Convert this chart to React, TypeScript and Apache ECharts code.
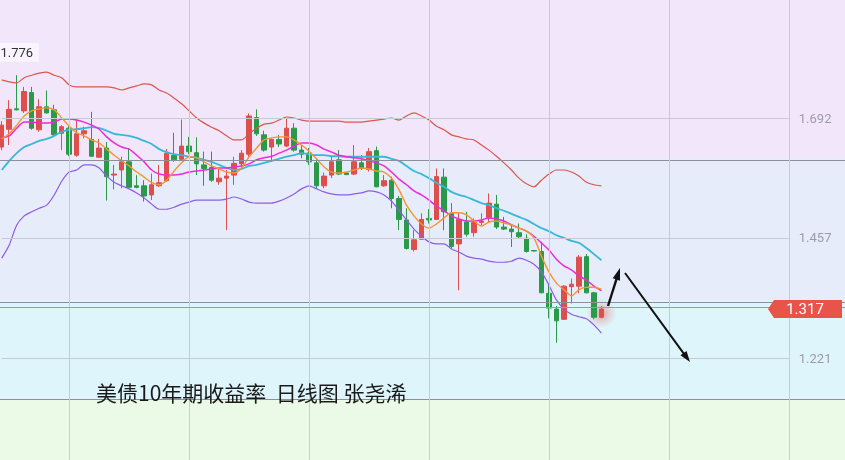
import React, { useEffect, useRef } from "react";
import * as echarts from "echarts";

// ---- data ----
const categories = Array.from({ length: 113 }, (_, i) => `D${i + 1}`);

const openV = [
  1.635, 1.670, 1.710, 1.706, 1.742, 1.669, 1.714, 1.708, 1.662, 1.672,
  1.619, 1.661, 1.650, 1.615, 1.633, 1.580, 1.590, 1.606, 1.559, 1.559,
  1.541, 1.559, 1.569, 1.619, 1.611, 1.637, 1.624, 1.600, 1.595, 1.567,
  1.574, 1.580, 1.602, 1.621, 1.693, 1.659, 1.635, 1.650, 1.637, 1.672,
  1.629, 1.623, 1.604, 1.559, 1.580, 1.610, 1.584, 1.582, 1.604, 1.591,
  1.628, 1.559, 1.570, 1.534, 1.492, 1.434, 1.454, 1.495, 1.493, 1.576,
  1.505, 1.445, 1.488, 1.467, 1.487, 1.497, 1.523, 1.478, 1.474, 1.467,
  1.456, 1.432, 1.430, 1.348, 1.317, 1.297, 1.361, 1.362, 1.420, 1.349,
  1.301,
];
const closeV = [
  1.678, 1.709, 1.708, 1.744, 1.672, 1.714, 1.702, 1.659, 1.675, 1.621,
  1.661, 1.667, 1.617, 1.633, 1.577, 1.582, 1.606, 1.556, 1.556, 1.539,
  1.561, 1.565, 1.623, 1.610, 1.637, 1.626, 1.602, 1.593, 1.570, 1.574,
  1.578, 1.603, 1.623, 1.696, 1.661, 1.629, 1.650, 1.641, 1.672, 1.629,
  1.621, 1.606, 1.559, 1.578, 1.606, 1.582, 1.581, 1.606, 1.593, 1.626,
  1.557, 1.569, 1.534, 1.493, 1.436, 1.453, 1.493, 1.492, 1.577, 1.508,
  1.440, 1.493, 1.464, 1.487, 1.490, 1.525, 1.478, 1.474, 1.469, 1.459,
  1.430, 1.431, 1.349, 1.319, 1.294, 1.362, 1.366, 1.419, 1.349, 1.301,
  1.317,
];
const lowV = [
  1.629, 1.639, 1.707, 1.702, 1.669, 1.665, 1.701, 1.655, 1.629, 1.617,
  1.616, 1.652, 1.616, 1.615, 1.530, 1.552, 1.554, 1.554, 1.554, 1.528,
  1.531, 1.557, 1.567, 1.606, 1.610, 1.621, 1.580, 1.559, 1.567, 1.561,
  1.472, 1.561, 1.590, 1.616, 1.657, 1.626, 1.606, 1.635, 1.635, 1.626,
  1.613, 1.600, 1.554, 1.554, 1.574, 1.580, 1.580, 1.580, 1.590, 1.587,
  1.556, 1.557, 1.515, 1.472, 1.434, 1.430, 1.453, 1.485, 1.492, 1.472,
  1.436, 1.354, 1.459, 1.459, 1.482, 1.488, 1.474, 1.472, 1.439, 1.456,
  1.428, 1.430, 1.348, 1.299, 1.251, 1.296, 1.328, 1.348, 1.348, 1.297,
  1.299,
];
const highV = [
  1.686, 1.727, 1.776, 1.753, 1.753, 1.729, 1.746, 1.718, 1.678, 1.678,
  1.688, 1.675, 1.704, 1.651, 1.645, 1.600, 1.616, 1.633, 1.580, 1.570,
  1.583, 1.600, 1.631, 1.663, 1.689, 1.655, 1.654, 1.626, 1.626, 1.593,
  1.590, 1.616, 1.629, 1.701, 1.709, 1.667, 1.652, 1.659, 1.691, 1.682,
  1.639, 1.633, 1.611, 1.585, 1.616, 1.629, 1.585, 1.639, 1.619, 1.633,
  1.636, 1.580, 1.577, 1.539, 1.515, 1.472, 1.505, 1.513, 1.593, 1.593,
  1.525, 1.505, 1.508, 1.495, 1.505, 1.544, 1.541, 1.498, 1.482, 1.485,
  1.464, 1.433, 1.449, 1.368, 1.323, 1.364, 1.377, 1.423, 1.425, 1.351,
  1.323,
];

const ma5 = [
  1.651, 1.661, 1.678, 1.696, 1.706, 1.710, 1.712, 1.708, 1.692, 1.676,
  1.663, 1.657, 1.649, 1.643, 1.631, 1.619, 1.608, 1.598, 1.586, 1.576,
  1.565, 1.561, 1.570, 1.588, 1.604, 1.616, 1.614, 1.606, 1.598, 1.592,
  1.586, 1.584, 1.594, 1.616, 1.633, 1.649, 1.653, 1.655, 1.655, 1.649,
  1.639, 1.627, 1.612, 1.596, 1.586, 1.584, 1.586, 1.590, 1.594, 1.592,
  1.588, 1.586, 1.574, 1.551, 1.521, 1.500, 1.484, 1.476, 1.484, 1.496,
  1.506, 1.506, 1.502, 1.490, 1.480, 1.488, 1.490, 1.486, 1.482, 1.476,
  1.470, 1.457, 1.421, 1.390, 1.368, 1.355, 1.343, 1.355, 1.360, 1.360,
  1.356,
];
const ma10 = [
  1.653, 1.657, 1.672, 1.684, 1.684, 1.682, 1.682, 1.684, 1.690, 1.690,
  1.688, 1.684, 1.678, 1.670, 1.655, 1.643, 1.635, 1.631, 1.619, 1.606,
  1.590, 1.582, 1.580, 1.580, 1.582, 1.586, 1.588, 1.590, 1.592, 1.594,
  1.594, 1.596, 1.598, 1.602, 1.610, 1.614, 1.617, 1.623, 1.629, 1.637,
  1.643, 1.643, 1.639, 1.631, 1.625, 1.619, 1.616, 1.614, 1.612, 1.608,
  1.604, 1.598, 1.586, 1.572, 1.561, 1.549, 1.541, 1.531, 1.519, 1.510,
  1.500, 1.494, 1.490, 1.490, 1.492, 1.496, 1.494, 1.490, 1.482, 1.476,
  1.470, 1.460, 1.447, 1.433, 1.415, 1.402, 1.394, 1.382, 1.374, 1.362,
  1.353,
];
const bollMid = [
  1.590, 1.608, 1.623, 1.635, 1.641, 1.647, 1.651, 1.657, 1.665, 1.669,
  1.670, 1.672, 1.674, 1.672, 1.667, 1.661, 1.659, 1.657, 1.653, 1.647,
  1.641, 1.631, 1.625, 1.621, 1.619, 1.616, 1.614, 1.610, 1.606, 1.600,
  1.594, 1.590, 1.592, 1.598, 1.600, 1.604, 1.608, 1.612, 1.616, 1.619,
  1.623, 1.621, 1.619, 1.619, 1.617, 1.617, 1.616, 1.616, 1.616, 1.616,
  1.616, 1.616, 1.612, 1.608, 1.598, 1.588, 1.582, 1.574, 1.565, 1.557,
  1.547, 1.541, 1.537, 1.531, 1.525, 1.521, 1.515, 1.510, 1.504, 1.498,
  1.492, 1.484, 1.476, 1.470, 1.462, 1.457, 1.451, 1.447, 1.437, 1.425,
  1.413,
];
const bollUp = [
  1.767, 1.763, 1.761, 1.771, 1.776, 1.780, 1.782, 1.776, 1.771, 1.757,
  1.753, 1.753, 1.753, 1.753, 1.753, 1.751, 1.747, 1.751, 1.755, 1.759,
  1.757, 1.747, 1.741, 1.731, 1.720, 1.706, 1.692, 1.682, 1.674, 1.667,
  1.657, 1.649, 1.649, 1.661, 1.672, 1.680, 1.682, 1.688, 1.694, 1.692,
  1.688, 1.686, 1.686, 1.686, 1.686, 1.686, 1.684, 1.684, 1.684, 1.686,
  1.688, 1.690, 1.692, 1.688, 1.696, 1.702, 1.696, 1.688, 1.676, 1.669,
  1.659, 1.655, 1.651, 1.649, 1.639, 1.629, 1.617, 1.604, 1.590, 1.574,
  1.563, 1.557, 1.570, 1.582, 1.590, 1.590, 1.586, 1.578, 1.566, 1.561,
  1.559,
];
const bollLow = [
  1.417, 1.443, 1.482, 1.500, 1.508, 1.515, 1.521, 1.541, 1.568, 1.586,
  1.590, 1.600, 1.600, 1.594, 1.578, 1.566, 1.559, 1.553, 1.545, 1.535,
  1.523, 1.513, 1.513, 1.517, 1.523, 1.527, 1.531, 1.531, 1.531, 1.531,
  1.533, 1.537, 1.533, 1.527, 1.525, 1.525, 1.525, 1.529, 1.535, 1.543,
  1.553, 1.559, 1.553, 1.547, 1.543, 1.541, 1.541, 1.543, 1.545, 1.549,
  1.547, 1.541, 1.529, 1.511, 1.492, 1.474, 1.460, 1.449, 1.445, 1.445,
  1.435, 1.429, 1.421, 1.417, 1.415, 1.411, 1.409, 1.409, 1.411, 1.417,
  1.413, 1.405, 1.390, 1.364, 1.335, 1.317, 1.307, 1.302, 1.298, 1.286,
  1.270,
];

const yTicks = [1.221, 1.457, 1.692, 1.927];
const bandEdges = [1.6135, 1.3348, 1.1405];
const yMin = 1.0209;
const yMax = 1.9236;
const vGridIdx = [9, 25, 41, 57, 73, 89, 105];
const titleText = "美债10年期收益率  日线图 张尧浠";
// hand-drawn annotation arrows, in (category index, value)
const arrows = [
  { from: [80.88, 1.3231], to: [82.48, 1.3976] },
  { from: [83.15, 1.3878], to: [91.82, 1.2132] },
];

const bandColors = ["#f2e6fb", "#e7ecfb", "#def5fb", "#ebfae6"];

// the chart canvas starts 2px left of the page edge so the first slot is cut
const SHIFT = 2;

export default function App() {
  const ref = useRef<HTMLDivElement>(null);

  useEffect(() => {
    const chart = echarts.init(ref.current!, null, { renderer: "svg" });
    const candleData = openV.map((o, i) => [o, closeV[i], lowV[i], highV[i]]);
    const lastIdx = closeV.length - 1;
    const bandBounds = [yMax, ...bandEdges, yMin];

    const lineSeries = (name: string, data: number[], color: string, width: number) => ({
      name,
      type: "line",
      data,
      showSymbol: false,
      symbol: "none",
      smooth: 0.25,
      silent: true,
      z: 3,
      lineStyle: { color, width },
    });

    const option: any = {
      animation: false,
      grid: { left: 0, right: 0, top: 0, bottom: 0 },
      xAxis: {
        type: "category",
        data: categories,
        boundaryGap: true,
        axisLine: { show: false },
        axisTick: { show: false },
        axisLabel: { show: false },
        splitLine: { show: false },
      },
      yAxis: {
        type: "value",
        min: yMin,
        max: yMax,
        axisLine: { show: false },
        axisTick: { show: false },
        axisLabel: { show: false },
        splitLine: { show: false },
      },
      series: [
        {
          name: "bands",
          type: "line",
          data: [],
          z: 0,
          silent: true,
          markArea: {
            silent: true,
            data: bandColors.map((c, i) => [
              { yAxis: bandBounds[i], itemStyle: { color: c } },
              { yAxis: bandBounds[i + 1] },
            ]),
          },
        },
        {
          name: "grid",
          type: "line",
          data: [],
          z: 1,
          silent: true,
          markLine: {
            silent: true,
            symbol: ["none", "none"],
            lineStyle: { type: "solid", width: 1 },
            data: [
              ...yTicks.map((v) => [
                {
                  coord: [0, v],
                  lineStyle: { color: "#c9c9d3", type: "solid", width: 1 },
                  label: {
                    show: true,
                    position: "end",
                    formatter: v.toFixed(3),
                    color: "#9c9ca6",
                    fontSize: 13,
                    fontFamily: "Roboto",
                    distance: 10,
                  },
                },
                { coord: [105, v] },
              ]),
              ...bandEdges.map((v) => ({
                yAxis: v,
                lineStyle: { color: "#8f8f9b", type: "solid", width: 1 },
                label: { show: false },
              })),
              ...vGridIdx.map((i) => ({
                xAxis: i,
                lineStyle: { color: "#c8cad6", type: "solid", width: 1 },
                label: { show: false },
              })),
            ],
          },
        },
        {
          name: "glow",
          type: "scatter",
          z: 1,
          silent: true,
          symbolSize: 30,
          data: [[lastIdx, (openV[lastIdx] + closeV[lastIdx]) / 2]],
          itemStyle: {
            color: new echarts.graphic.RadialGradient(0.5, 0.5, 0.5, [
              { offset: 0, color: "rgba(235,60,60,0.55)" },
              { offset: 0.5, color: "rgba(235,60,60,0.25)" },
              { offset: 1, color: "rgba(235,60,60,0)" },
            ]),
          },
        },
        {
          name: "K",
          type: "candlestick",
          data: candleData,
          barWidth: 5,
          z: 2,
          silent: true,
          itemStyle: {
            color: "#dc4f4c",
            color0: "#2a9a4a",
            borderColor: "#dc4f4c",
            borderColor0: "#2a9a4a",
            borderWidth: 1,
          },
          markPoint: {
            silent: true,
            symbol: "rect",
            symbolSize: [44, 19],
            symbolOffset: [0, -23],
            itemStyle: { color: "rgba(255,255,255,0.55)" },
            label: {
              show: true,
              position: "inside",
              color: "#333",
              fontSize: 13,
              fontFamily: "Roboto",
              formatter: (p: any) => Number(p.value).toFixed(3),
            },
            data: [{ type: "max", valueDim: "highest" }],
          },
          markLine: {
            silent: true,
            symbol: ["none", "none"],
            label: { show: false },
            lineStyle: { color: "#e8806e", width: 1, type: "solid" },
            data: [{ yAxis: closeV[lastIdx] }],
          },
        },
        lineSeries("UP", bollUp, "#d9574b", 1.2),
        lineSeries("DN", bollLow, "#8d5ce6", 1.2),
        lineSeries("MID", bollMid, "#38b8d8", 1.8),
        lineSeries("MA10", ma10, "#ee2ad8", 1.5),
        lineSeries("MA5", ma5, "#f39530", 1.4),
      ],
    };
    chart.setOption(option);

    const p0 = chart.convertToPixel({ xAxisIndex: 0 }, 0) as number;
    const p100 = chart.convertToPixel({ xAxisIndex: 0 }, 100) as number;
    const toPix = (idx: number, val: number) => {
      const x = p0 + ((p100 - p0) * idx) / 100;
      const y = chart.convertToPixel({ yAxisIndex: 0 }, val) as number;
      return [x, y];
    };

    const arrowEls: any[] = [];
    arrows.forEach((a, k) => {
      const [x1, y1] = toPix(a.from[0], a.from[1]);
      const [x2, y2] = toPix(a.to[0], a.to[1]);
      const dx = x2 - x1;
      const dy = y2 - y1;
      const L = Math.hypot(dx, dy);
      const ux = dx / L;
      const uy = dy / L;
      const nx = -uy;
      const ny = ux;
      const hl = k === 0 ? 12 : 11;
      const hw = 3.8;
      const bx = x2 - ux * hl;
      const by = y2 - uy * hl;
      arrowEls.push({
        type: "line",
        z: 100,
        silent: true,
        shape: { x1, y1, x2: bx + ux * 3, y2: by + uy * 3 },
        style: { stroke: "#111", lineWidth: k === 0 ? 2.4 : 2 },
      });
      arrowEls.push({
        type: "polygon",
        z: 100,
        silent: true,
        shape: {
          points: [
            [x2, y2],
            [bx + nx * hw, by + ny * hw],
            [bx - nx * hw, by - ny * hw],
          ],
        },
        style: { fill: "#111" },
      });
    });

    const [, py] = toPix(lastIdx, closeV[lastIdx]);
    const tx = (x: number) => x + SHIFT;
    chart.setOption({
      graphic: [
        {
          type: "text",
          z: 100,
          silent: true,
          x: tx(96),
          y: 391.5,
          style: {
            text: titleText,
            font: '21px "Noto Sans CJK SC"',
            fill: "#1a1a1a",
            verticalAlign: "middle",
          },
        },
        ...arrowEls,
        {
          type: "polygon",
          z: 100,
          silent: true,
          shape: {
            points: [
              [tx(768), py],
              [tx(774), py - 9],
              [tx(842), py - 9],
              [tx(842), py + 9],
              [tx(774), py + 9],
            ],
          },
          style: { fill: "#e8534a" },
        },
        {
          type: "text",
          z: 101,
          silent: true,
          x: tx(805),
          y: py,
          style: {
            text: closeV[lastIdx].toFixed(3),
            font: "15px Roboto",
            fill: "#ffffff",
            align: "center",
            verticalAlign: "middle",
          },
        },
      ],
    });

    return () => chart.dispose();
  }, []);

  return (
    <div
      ref={ref}
      style={{ position: "fixed", left: -SHIFT, top: 0, width: 845 + SHIFT, height: 460 }}
    />
  );
}
